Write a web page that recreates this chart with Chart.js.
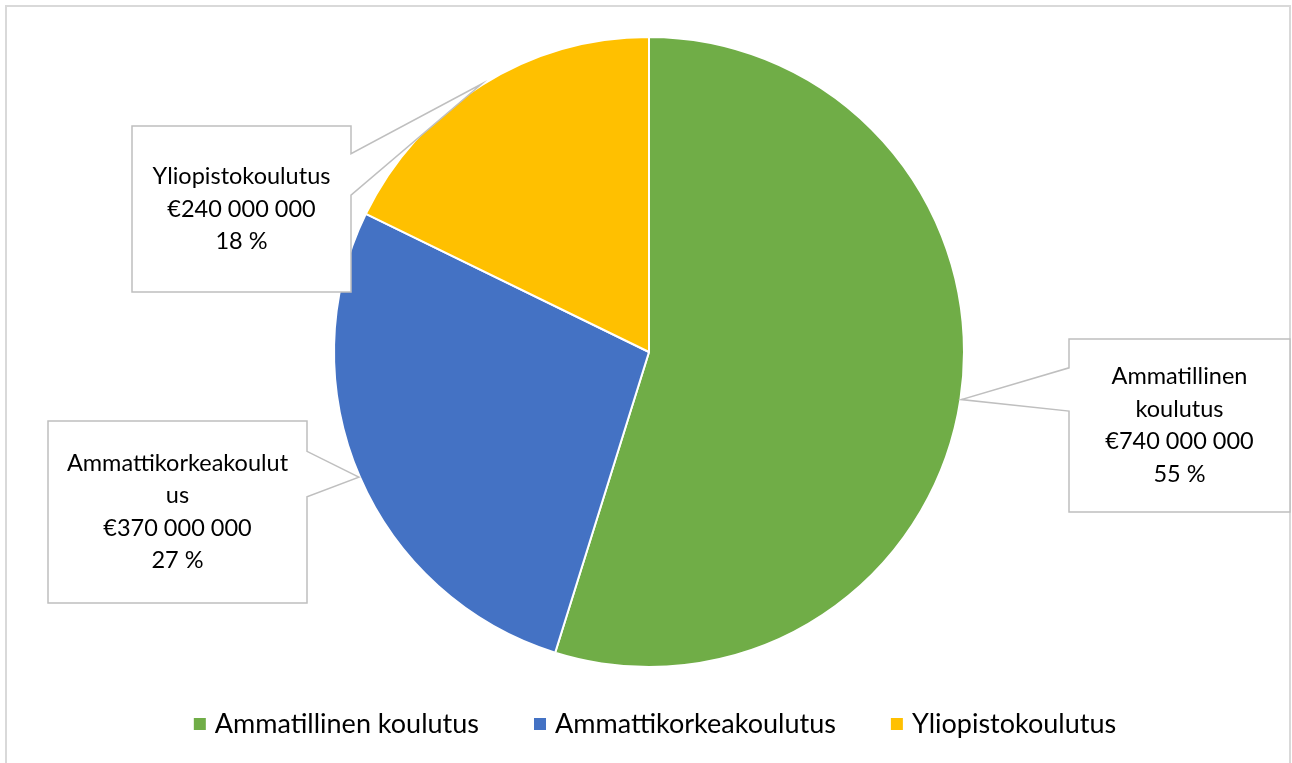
<!DOCTYPE html>
<html>
<head>
<meta charset="utf-8">
<script src="https://cdn.jsdelivr.net/npm/chart.js@4.4.0/dist/chart.umd.min.js"></script>
<style>
  html, body { margin: 0; padding: 0; background: #fff; }
</style>
</head>
<body>
<canvas id="pie" width="1292" height="763"></canvas>
<script>
const categories = ['Ammatillinen koulutus', 'Ammattikorkeakoulutus', 'Yliopistokoulutus'];
const amounts = [740000000, 370000000, 240000000];
const sliceColors = ['#70AD47', '#4472C4', '#FFC000'];

// how each name wraps inside its callout box
const calloutNames = [['Ammatillinen', 'koulutus'], ['Ammattikorkeakoulut', 'us'], ['Yliopistokoulutus']];
// callout boxes: left, top, right, bottom
const calloutBoxes = [[1069, 339, 1290, 512], [48, 421, 307, 603], [132, 126, 351, 292]];

const FONT = 'Lato, "Liberation Sans", sans-serif';

function formatEuro(n) {
  return '€' + String(n).replace(/\B(?=(\d{3})+(?!\d))/g, ' ');
}

function drawCallout(ctx, box, tip, lines) {
  const [l, t, r, b] = box;
  const h = b - t;
  const n1 = t + h / 6, n2 = t + h * 5 / 12;
  ctx.beginPath();
  ctx.moveTo(l, t);
  ctx.lineTo(r, t);
  if (tip.x > r) {
    ctx.lineTo(r, n1);
    ctx.lineTo(tip.x, tip.y);
    ctx.lineTo(r, n2);
  }
  ctx.lineTo(r, b);
  ctx.lineTo(l, b);
  if (tip.x < l) {
    ctx.lineTo(l, n2);
    ctx.lineTo(tip.x, tip.y);
    ctx.lineTo(l, n1);
  }
  ctx.closePath();
  ctx.fillStyle = '#fff';
  ctx.fill();
  ctx.strokeStyle = '#bfbfbf';
  ctx.lineWidth = 1.5;
  ctx.stroke();

  // text block centred in the box
  const lh = 32.5;
  const cx = (l + r) / 2;
  const cy = (t + b) / 2;
  ctx.fillStyle = '#000';
  ctx.font = '23.5px ' + FONT;
  ctx.textAlign = 'center';
  ctx.textBaseline = 'middle';
  lines.forEach((s, i) => {
    ctx.fillText(s, cx, cy + (i - (lines.length - 1) / 2) * lh);
  });
}

const calloutPlugin = {
  id: 'callouts',
  afterDraw(chart) {
    const ctx = chart.ctx;
    ctx.save();

    // outer chart frame
    ctx.strokeStyle = '#d9d9d9';
    ctx.lineWidth = 2;
    ctx.strokeRect(6, 6, 1284, 820);

    const values = chart.data.datasets[0].data;
    const total = values.reduce((a, b) => a + b, 0);
    const arcs = chart.getDatasetMeta(0).data;
    arcs.forEach((arc, i) => {
      const p = arc.getProps(['x', 'y', 'startAngle', 'endAngle', 'outerRadius'], true);
      const mid = (p.startAngle + p.endAngle) / 2;
      const tip = {
        x: p.x + (p.outerRadius + 1) * Math.cos(mid),
        y: p.y + (p.outerRadius + 1) * Math.sin(mid)
      };
      const lines = calloutNames[i].concat([
        formatEuro(values[i]),
        Math.round(values[i] / total * 100) + ' %'
      ]);
      drawCallout(ctx, calloutBoxes[i], tip, lines);
    });

    // legend along the bottom
    ctx.font = '27px ' + FONT;
    ctx.textAlign = 'left';
    ctx.textBaseline = 'middle';
    const box = 12, gapText = 9, gapItem = 55;
    const widths = chart.data.labels.map(s => ctx.measureText(s).width);
    const full = widths.reduce((a, w) => a + box + gapText + w, 0) + gapItem * (widths.length - 1);
    let x = 655 - full / 2;
    const ly = 724;
    chart.data.labels.forEach((s, i) => {
      ctx.fillStyle = sliceColors[i];
      ctx.fillRect(x, ly - 6, box, box);
      ctx.fillStyle = '#000';
      ctx.fillText(s, x + box + gapText, ly);
      x += box + gapText + widths[i] + gapItem;
    });

    ctx.restore();
  }
};

new Chart(document.getElementById('pie'), {
  type: 'pie',
  data: {
    labels: categories,
    datasets: [{
      data: amounts,
      backgroundColor: sliceColors,
      borderColor: '#fff',
      borderWidth: 2
    }]
  },
  options: {
    responsive: false,
    animation: false,
    layout: {
      padding: { left: 6, right: 0, top: 36, bottom: 95 }
    },
    plugins: {
      legend: { display: false },
      tooltip: { enabled: false }
    }
  },
  plugins: [calloutPlugin]
});
</script>
</body>
</html>
